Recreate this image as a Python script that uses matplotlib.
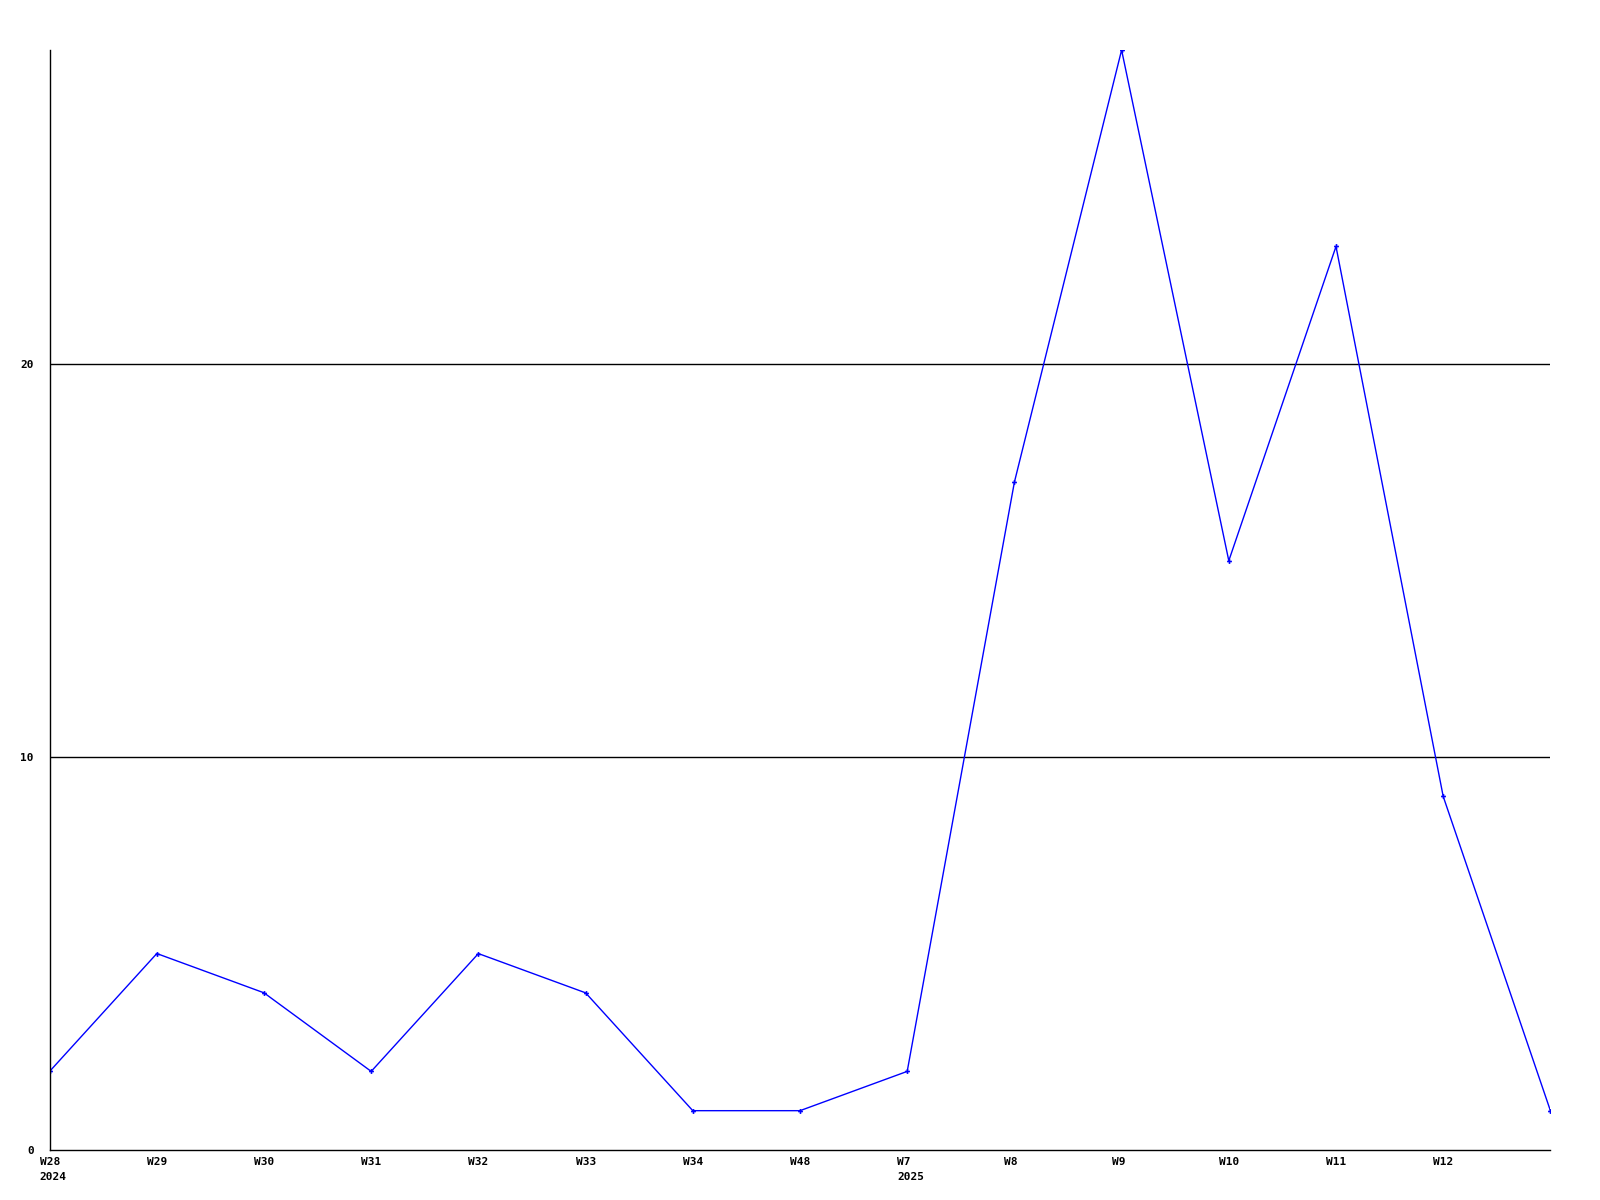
import matplotlib
matplotlib.use('Agg')
import matplotlib.pyplot as plt
from matplotlib.transforms import ScaledTranslation

# weekly counts
weeks = ['W28\n2024', 'W29', 'W30', 'W31', 'W32', 'W33', 'W34', 'W48',
         'W7\n2025', 'W8', 'W9', 'W10', 'W11', 'W12', '']
counts = [2, 5, 4, 2, 5, 4, 1, 1, 2, 17, 28, 15, 23, 9, 1]
y_ticks = [0, 10, 20]

fig = plt.figure(figsize=(16, 12), dpi=100)
ax = fig.add_axes([0.031, 0.0417, 0.938, 0.9166])

x = list(range(len(counts)))
ax.plot(x, counts, color='#0000ff', linewidth=1, marker='P', markersize=3.5,
        markeredgewidth=0)

for y in y_ticks[1:]:
    ax.axhline(y, color='black', linewidth=1, zorder=0)

ax.set_xlim(0, len(counts) - 1)
ax.set_ylim(0, 28)
ax.set_xticks(x)
ax.set_xticklabels(weeks, ha='left', va='top', fontfamily='DejaVu Sans Mono',
                   fontweight='bold', fontsize=8, linespacing=1.65)
ax.set_yticks(y_ticks)
ax.set_yticklabels([str(v) for v in y_ticks], fontfamily='DejaVu Sans Mono',
                   fontweight='bold', fontsize=8)
ax.tick_params(axis='x', length=0, pad=5)
ax.tick_params(axis='y', length=0, pad=11.5)

# labels start a little left of their tick
shift = ScaledTranslation(-0.10, 0, fig.dpi_scale_trans)
for lab in ax.get_xticklabels():
    lab.set_transform(lab.get_transform() + shift)

for s in ['top', 'right']:
    ax.spines[s].set_visible(False)
ax.spines['left'].set_linewidth(1)
ax.spines['bottom'].set_linewidth(1)

fig.savefig('out.png', dpi=100)
